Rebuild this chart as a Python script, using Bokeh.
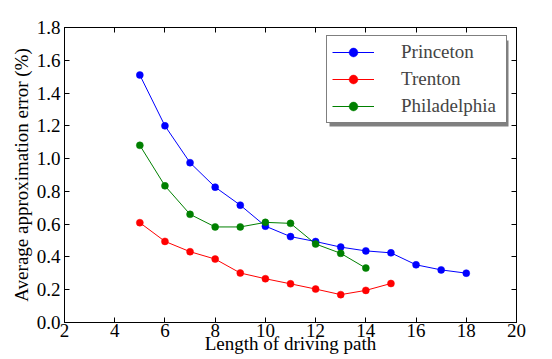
from bokeh.plotting import figure
from bokeh.models import (LinearAxis, Range1d, Legend, LegendItem, FixedTicker,
                          PrintfTickFormatter, CustomJSTickFormatter, BoxAnnotation)
from bokeh.embed import file_html
from bokeh.resources import INLINE

# Data
princeton_x = [5, 6, 7, 8, 9, 10, 11, 12, 13, 14, 15, 16, 17, 18]
princeton_y = [1.51, 1.20, 0.975, 0.826, 0.716, 0.588, 0.524, 0.494, 0.460, 0.437, 0.425, 0.352, 0.321, 0.301]
trenton_x = [5, 6, 7, 8, 9, 10, 11, 12, 13, 14, 15]
trenton_y = [0.609, 0.495, 0.432, 0.387, 0.302, 0.267, 0.236, 0.204, 0.170, 0.196, 0.238]
phila_x = [5, 6, 7, 8, 9, 10, 11, 12, 13, 14]
phila_y = [1.081, 0.834, 0.660, 0.583, 0.583, 0.611, 0.605, 0.479, 0.422, 0.332]
x_ticks = [2, 4, 6, 8, 10, 12, 14, 16, 18, 20]
y_ticks = [0.0, 0.2, 0.4, 0.6, 0.8, 1.0, 1.2, 1.4, 1.6, 1.8]

FONT = "Liberation Serif"
FS = "19px"

p = figure(width=552, height=359, output_backend="svg", toolbar_location=None,
           x_range=Range1d(2, 20), y_range=Range1d(0, 1.8),
           min_border_left=64, min_border_right=36, min_border_top=27, min_border_bottom=37)
p.grid.visible = False
p.outline_line_color = "black"
p.outline_line_width = 1

def style_axis(ax, labels=True):
    ax.major_tick_in = 5
    ax.major_tick_out = 0
    ax.minor_tick_line_color = None
    ax.axis_line_color = "black"
    ax.major_tick_line_color = "black"
    ax.major_label_text_font = FONT
    ax.major_label_text_font_style = "normal"
    ax.major_label_text_color = "black"
    ax.axis_label_text_font = FONT
    ax.axis_label_text_font_style = "normal"
    ax.axis_label_text_color = "black"
    if labels:
        ax.major_label_text_font_size = FS
        ax.axis_label_text_font_size = FS
    else:
        ax.formatter = CustomJSTickFormatter(code="return ''")
        ax.major_label_standoff = 0

p.xaxis.ticker = FixedTicker(ticks=x_ticks)
p.yaxis.ticker = FixedTicker(ticks=y_ticks)
p.yaxis.formatter = PrintfTickFormatter(format="%.1f")
p.xaxis.axis_label = "Length of driving path"
p.yaxis.axis_label = "Average approximation error (%)"
style_axis(p.xaxis[0])
style_axis(p.yaxis[0])
p.xaxis.major_label_standoff = 1
p.xaxis.axis_label_standoff = -7
p.yaxis.major_label_standoff = 4
p.yaxis.axis_label_standoff = 2

top = LinearAxis(ticker=FixedTicker(ticks=x_ticks))
right = LinearAxis(ticker=FixedTicker(ticks=y_ticks))
style_axis(top, labels=False)
style_axis(right, labels=False)
p.add_layout(top, "above")
p.add_layout(right, "right")

series = [
    ("Princeton", princeton_x, princeton_y, "#0000ff"),
    ("Trenton", trenton_x, trenton_y, "#ff0000"),
    ("Philadelphia", phila_x, phila_y, "#008000"),
]
items = []
for name, xs, ys, c in series:
    l = p.line(xs, ys, line_color=c, line_width=1)
    s = p.scatter(xs, ys, size=7, fill_color=c, line_color=c, line_width=0.5)
    items.append(LegendItem(label=name, renderers=[l, s]))

# legend drop shadow (screen units relative to the frame's bottom-left)
shadow = BoxAnnotation(left=265, right=444, bottom=196, top=282,
                       left_units="screen", right_units="screen",
                       top_units="screen", bottom_units="screen",
                       fill_color="#808080", fill_alpha=1, line_color=None)
p.add_layout(shadow)

legend = Legend(items=items, location=(262, 199),
                label_text_font=FONT, label_text_font_size=FS,
                label_text_font_style="normal",
                glyph_width=42, glyph_height=22, label_height=22, label_width=100,
                label_standoff=27, spacing=5, padding=5, margin=0,
                border_line_color="black", border_line_width=1,
                background_fill_color="white", background_fill_alpha=1)
p.add_layout(legend)

open("out.html", "w").write(file_html(p, INLINE))
